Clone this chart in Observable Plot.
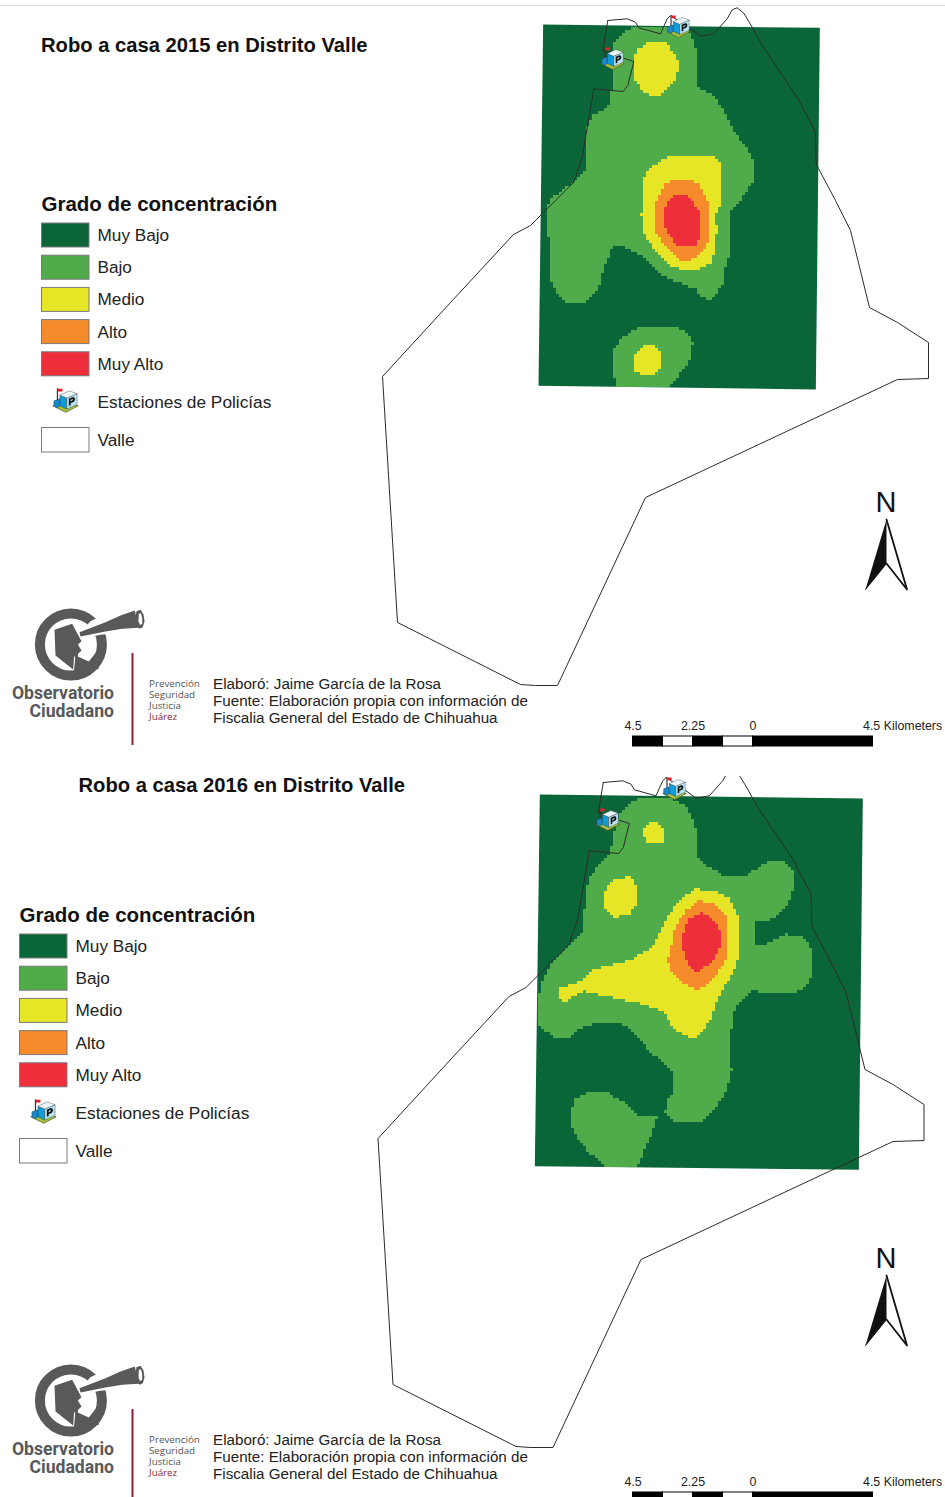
<!DOCTYPE html>
<html><head><meta charset="utf-8">
<script src="https://cdn.jsdelivr.net/npm/d3@7"></script>
<script src="https://cdn.jsdelivr.net/npm/@observablehq/plot@0.6"></script>
<style>html,body{margin:0;padding:0;background:#fff}svg{display:block}</style>
</head><body><div id="chart"></div>
<script>
// ---------- legend content ----------
const levelLabels = ["Muy Bajo","Bajo","Medio","Alto","Muy Alto"];
const levelColors = ["#0a6638","#50ab4a","#e6e627","#f68b2c","#ef2e3c"];
const scaleTicks = ["4.5","2.25","0"];
const scaleKm = [-4.5,-3.375,-2.25,-1.125,0,4.5];
const credits = ["Elaboró: Jaime García de la Rosa","Fuente: Elaboración propia con información de","Fiscalia General del Estado de Chihuahua"];
const motto = ["Prevención","Seguridad","Justicia","Juárez"];

// ---------- district boundary (map units of the 2015 sheet) ----------
const valle = [[607.3,20],[626.7,18.3],[635,21.7],[638.3,27.3],[660,33.3],[666.7,18.3],[670,15],[690,28.3],[700,35.7],[713.3,33.3],[726.7,18.3],[731.7,9.3],[736.7,7.3],[743.3,12.7],[751.7,26.7],[761.7,45],[796.7,96.7],[815,131.7],[815.7,163.3],[818,168],[835,200],[850,230],[869,307],[897,322],[928,342],[928,378],[897,379],[645,497],[557,685],[535,685],[520,684],[397,622],[382,376],[450,302],[513,234],[530,225],[573.3,181.7],[581.7,156.7],[593.3,88.3],[622.7,91],[627.3,85],[633.3,61],[621.7,57.3],[602.3,50],[607.3,20]];

// ---------- 2015 concentration zones, digitised on a 1/3 px grid ----------
const frame2015 = [[38,72],[868,82],[856,1167],[24,1156]];
const bajo2015a = [[295,88],[320,78],[400,80],[470,85],[490,120],[497,150],[497,200],[505,262],[530,275],[555,290],[575,325],[590,355],[620,405],[650,445],[668,480],[668,540],[650,570],[625,605],[600,635],[597,700],[597,760],[585,800],[580,850],[555,880],[540,898],[510,885],[495,865],[460,850],[420,835],[385,815],[350,775],[315,755],[280,740],[245,738],[235,770],[215,820],[210,850],[190,880],[165,905],[108,905],[85,885],[65,850],[58,800],[58,712],[50,690],[50,625],[65,595],[100,565],[130,545],[165,510],[170,470],[170,385],[190,345],[240,315],[243,270],[252,230],[252,130],[270,110]];
const bajo2015b = [[330,980],[440,980],[475,1000],[487,1020],[485,1070],[465,1100],[415,1160],[258,1158],[250,1110],[250,1050],[270,1015],[300,995]];
const medio2015a = [[360,125],[400,123],[425,150],[445,185],[440,235],[410,270],[375,293],[345,280],[315,240],[310,170],[325,145]];
const medio2015b = [[410,470],[520,465],[555,470],[570,490],[570,610],[555,640],[560,685],[567,692],[555,700],[555,750],[540,790],[500,808],[455,808],[410,790],[375,750],[345,710],[333,640],[340,590],[335,550],[350,510]];
const medio2015c = [[340,1035],[375,1037],[395,1065],[395,1095],[375,1120],[335,1125],[310,1105],[308,1075],[320,1050]];
const alto2015 = [[435,535],[480,535],[510,555],[530,600],[540,630],[540,700],[525,745],[495,770],[470,785],[435,770],[400,735],[375,690],[373,620],[385,590],[405,550]];
const muyAlto2015 = [[445,580],[470,580],[490,610],[510,640],[510,710],[490,740],[440,738],[415,700],[402,670],[405,620],[420,590]];

// ---------- 2016 concentration zones ----------
const frame2016 = [[43,72],[1012,84],[1000,1198],[28,1187]];
const bajo2016a = [[320,92],[345,80],[430,78],[480,105],[505,145],[515,190],[515,260],[545,285],[600,315],[660,320],[695,290],[735,270],[775,270],[800,295],[805,340],[795,385],[770,420],[740,445],[690,450],[688,520],[710,525],[750,505],[780,490],[830,495],[855,530],[855,620],[830,660],[780,668],[730,668],[680,660],[640,695],[625,730],[615,810],[620,900],[605,960],[570,1015],[530,1050],[490,1058],[440,1048],[420,1025],[425,985],[445,968],[440,905],[410,870],[375,845],[330,790],[290,760],[225,752],[170,770],[130,800],[90,803],[50,775],[35,758],[35,720],[45,640],[80,570],[130,525],[175,475],[178,380],[190,320],[230,270],[255,245],[262,200],[280,130]];
const bajo2016b = [[185,968],[250,968],[290,990],[340,1040],[397,1040],[375,1100],[345,1165],[335,1190],[243,1190],[190,1145],[160,1110],[137,1065],[137,1015],[150,985]];
const medio2016a = [[375,155],[400,157],[415,180],[412,215],[365,218],[355,195],[358,170]];
const medio2016b = [[265,325],[315,318],[335,350],[335,400],[310,432],[265,440],[238,410],[238,360]];
const medio2016c = [[510,355],[570,358],[610,380],[640,440],[640,560],[625,605],[590,660],[575,690],[555,750],[515,798],[490,800],[440,770],[415,720],[330,695],[260,680],[175,660],[115,695],[103,680],[103,650],[170,630],[210,593],[310,570],[380,530],[410,470],[450,400],[480,375]];
const alto2016 = [[520,390],[565,395],[600,430],[610,480],[605,560],[570,620],[520,658],[470,635],[440,610],[428,570],[440,520],[450,470],[480,420]];
const muyAlto2016 = [[530,425],[560,440],[585,480],[585,530],[565,570],[515,605],[490,580],[475,540],[472,490],[490,445]];

// ---------- logo outlines (1/3 px) ----------
const logoHead = [[147,88],[200,70],[228,122],[217,132],[228,150],[218,160],[214,182],[206,165],[203,207],[150,165]];
const logoChin = [[210,165],[250,183],[276,150],[280,205],[205,215]];
const logoGap = [[225,95],[255,62],[300,40],[315,100],[285,103],[225,114]];
const logoScope = [[222,95],[300,65],[345,45],[388,30],[400,82],[350,85],[300,93],[225,108]];
const logoLensOuter = [[393,32],[405,28],[414,42],[417,62],[412,80],[402,85],[394,76],[389,55]];
const logoLensInner = [[400,40],[406,38],[410,52],[410,68],[404,74],[399,62]];
// ---------- north arrow outlines ----------
const arrowDark = [[886,519],[886,563],[865,589]];
const arrowLight = [[886,519],[906.5,589],[886,563]];

// ---------- police station icon ----------
const iconSvg = `<svg xmlns='http://www.w3.org/2000/svg' viewBox='0 0 75 70'>
<path d='M2 50 38 36 73 50 38 68Z' fill='#a8c23a' stroke='#4a5a2a' stroke-width='2'/>
<path d='M15 1V38' stroke='#333' stroke-width='3.5'/><path d='M16 2H29V10H16Z' fill='#e3202c'/>
<path d='M5 36 22 30V50L14 56 5 50Z' fill='#1b87c6' stroke='#222' stroke-width='1'/>
<path d='M22 20 41 28V59L22 50Z' fill='#0f9bd7' stroke='#222' stroke-width='1'/>
<path d='M41 28 70 16V46L41 59Z' fill='#b8e3f3' stroke='#222' stroke-width='1'/>
<path d='M22 20 48 8 70 16 41 28Z' fill='#e9f6fb' stroke='#222' stroke-width='1'/>
<path d='M47 50V30L56 26Q65 24 64 32T52 42V48Z' fill='#111'/><path d='M52 33V38L56 36Q60 33 58 31Z' fill='#b8e3f3'/>
</svg>`;
const iconSrc = "data:image/svg+xml;charset=utf-8," + encodeURIComponent(iconSvg);

const FONT = "'Liberation Sans', Arial, sans-serif";
const LOGO_FONT = "Roboto, sans-serif";

function polygon(points, fill, options = {}) {
  return Plot.line(points, {x: d => d[0], y: d => d[1], fill, stroke: "none", curve: "linear", ...options});
}

function sheet(cfg) {
  const top = cfg.top, height = cfg.bottom - cfg.top;
  const up = cfg.sheetShift;              // footer, north arrow and logo offset
  const lx = cfg.legendDx, ly = cfg.legendDy;
  const toMapPx = p => [cfg.origin[0] + p[0] / 3, cfg.origin[1] + p[1] / 3];
  const framePx = cfg.frame.map(toMapPx);
  const zones = cfg.zones.map(z => ({level: z.level, poly: z.poly.map(toMapPx)}));
  const xs = framePx.map(d => d[0]), ys = framePx.map(d => d[1]);
  const level = (x, y) => {
    if (!d3.polygonContains(framePx, [x, y])) return null;
    let best = null;
    for (const z of zones) if (d3.polygonContains(z.poly, [x, y]) && (best === null || z.level > best)) best = z.level;
    return best === null ? null : levelColors[best];
  };
  const logo = p => [5 + p[0] / 3, 600 + up + p[1] / 3];
  const swatchRows = levelLabels.map((label, i) => ({label, color: levelColors[i], i}));
  const rowY = i => 235 + ly + i * 32.2;
  const km = v => 752.5 + v * 26.667;
  const kmSegments = d3.pairs(scaleKm).map(([a, b], i) => ({a, b, i}));
  const textOpt = {textAnchor: "start", lineAnchor: "bottom", fontFamily: FONT};

  return Plot.plot({
    width: 945, height, margin: 0, style: {background: "#fff", fontFamily: FONT},
    x: {domain: [0, 945], axis: null},
    y: {domain: [cfg.bottom, top], axis: null},
    color: {type: "identity"},
    marks: [
      cfg.rule ? Plot.ruleY([5], {stroke: "#dcdcdc", strokeWidth: 1}) : null,
      // title
      Plot.text([cfg.title], {...textOpt, x: cfg.titleX, y: cfg.titleY, text: d => d, fontSize: 20.2, fontWeight: "bold", fill: "#111"}),
      // concentration map
      polygon(framePx, levelColors[0]),
      Plot.raster({x1: Math.min(...xs), x2: Math.max(...xs), y1: Math.min(...ys), y2: Math.max(...ys), pixelSize: 3, imageRendering: "pixelated", fill: level}),
      // boundary
      Plot.line(valle, {x: d => d[0] + cfg.valleShift[0], y: d => d[1] + cfg.valleShift[1], stroke: "#2b2b2b", strokeWidth: 1, curve: "linear"}),
      // the scanned 2016 sheet is trimmed just above the map
      cfg.trimTo ? Plot.rect([0], {x1: 560, x2: 800, y1: top, y2: cfg.trimTo, fill: "#fff"}) : null,
      // stations
      Plot.image(cfg.stations, {x: d => d[0], y: d => d[1], src: () => iconSrc, width: 25, height: 24}),
      // legend
      Plot.text(["Grado de concentración"], {...textOpt, x: 41 + lx, y: 210.5 + ly, text: d => d, fontSize: 20.5, fontWeight: "bold", fill: "#111"}),
      Plot.rect(swatchRows, {x1: 41.5 + lx, x2: 89 + lx, y1: d => rowY(d.i) - 12, y2: d => rowY(d.i) + 12, fill: "color", stroke: "#7a7a7a", strokeWidth: 1}),
      Plot.text(swatchRows, {...textOpt, lineAnchor: "middle", x: 97 + lx, y: d => rowY(d.i), text: "label", fontSize: 17.2, fill: "#222"}),
      Plot.image([0], {x: 65 + lx, y: 400 + ly, src: () => iconSrc, width: 27, height: 25}),
      Plot.text(["Estaciones de Policías"], {...textOpt, lineAnchor: "middle", x: 97 + lx, y: 401.5 + ly, text: d => d, fontSize: 17.3, fill: "#222"}),
      Plot.rect([0], {x1: 41.5 + lx, x2: 89 + lx, y1: 427.5 + ly, y2: 452 + ly, fill: "#fff", stroke: "#7a7a7a", strokeWidth: 1}),
      Plot.text(["Valle"], {...textOpt, lineAnchor: "middle", x: 97 + lx, y: 439.5 + ly, text: d => d, fontSize: 17.2, fill: "#222"}),
      // logo
      Plot.dot([0], {x: 70.4, y: 644 + up, r: 31, stroke: "#58595b", strokeWidth: 10, fill: "none"}),
      polygon(logoChin.map(logo), "#58595b"),
      polygon(logoGap.map(logo), "#fff"),
      polygon(logoHead.map(logo), "#58595b"),
      polygon(logoScope.map(logo), "#58595b"),
      polygon(logoLensOuter.map(logo), "#58595b"),
      polygon(logoLensInner.map(logo), "#fff"),
      Plot.text(["Observatorio"], {x: 113.5, y: 698 + up, text: d => d, textAnchor: "end", lineAnchor: "bottom", fontFamily: LOGO_FONT, fontWeight: "bold", fontSize: 17.6, fill: "#58595b"}),
      Plot.text(["Ciudadano"], {x: 113.5, y: 716 + up, text: d => d, textAnchor: "end", lineAnchor: "bottom", fontFamily: LOGO_FONT, fontWeight: "bold", fontSize: 17.6, fill: "#58595b"}),
      Plot.ruleX([132], {y1: 653 + up, y2: 745 + up, stroke: "#8d1f35", strokeWidth: 2}),
      Plot.text(motto, {textAnchor: "start", lineAnchor: "bottom", fontFamily: "'Open Sans', sans-serif", x: 148.5, y: (d, i) => 686 + up + i * 11, text: d => d, fontSize: 9.8, fill: (d, i) => i === 3 ? "#8d1f35" : "#555"}),
      // credits
      Plot.text(credits, {...textOpt, x: 212.5, y: (d, i) => 688 + up + i * 17.4, text: d => d, fontSize: 15.2, fill: "#222"}),
      // north arrow
      Plot.text(["N"], {x: 885.5, y: 511 + up, text: d => d, textAnchor: "middle", lineAnchor: "bottom", fontFamily: FONT, fontSize: 29, fill: "#111"}),
      polygon(arrowDark.map(d => [d[0], d[1] + up]), "#111", {stroke: "#111", strokeWidth: 1}),
      polygon(arrowLight.map(d => [d[0], d[1] + up]), "#fff", {stroke: "#111", strokeWidth: 1.8}),
      // scale bar
      Plot.rect(kmSegments, {x1: d => km(d.a), x2: d => km(d.b), y1: 736 + up, y2: 746 + up, fill: d => d.i % 2 === 1 ? "#fff" : "#000", stroke: "#000", strokeWidth: 1}),
      Plot.text(scaleTicks, {x: (d, i) => km(scaleKm[i * 2]), y: 729 + up, text: d => d, textAnchor: "middle", lineAnchor: "bottom", fontFamily: FONT, fontSize: 12.4, fill: "#222"}),
      Plot.text(["4.5 Kilometers"], {...textOpt, x: 862.5, y: 729 + up, text: d => d, fontSize: 12.4, fill: "#222"})
    ]
  });
}

const root = document.getElementById("chart");
root.append(sheet({
  top: 0, bottom: 768, rule: true, sheetShift: 0, legendDx: 0, legendDy: 0,
  title: "Robo a casa 2015 en Distrito Valle", titleX: 40.5, titleY: 51,
  origin: [530, 0], frame: frame2015, valleShift: [0, 0],
  stations: [[612, 58], [678, 26]],
  zones: [
    {level: 1, poly: bajo2015a}, {level: 1, poly: bajo2015b},
    {level: 2, poly: medio2015a}, {level: 2, poly: medio2015b}, {level: 2, poly: medio2015c},
    {level: 3, poly: alto2015}, {level: 4, poly: muyAlto2015}
  ]
}));
root.append(sheet({
  top: 768, bottom: 1497, rule: false, trimTo: 776, sheetShift: 756, legendDx: -22, legendDy: 711,
  title: "Robo a casa 2016 en Distrito Valle", titleX: 78, titleY: 791,
  origin: [525, 770], frame: frame2016, valleShift: [-4.5, 762],
  stations: [[607, 819], [674, 788]],
  zones: [
    {level: 1, poly: bajo2016a}, {level: 1, poly: bajo2016b},
    {level: 2, poly: medio2016a}, {level: 2, poly: medio2016b}, {level: 2, poly: medio2016c},
    {level: 3, poly: alto2016}, {level: 4, poly: muyAlto2016}
  ]
}));
</script></body></html>
